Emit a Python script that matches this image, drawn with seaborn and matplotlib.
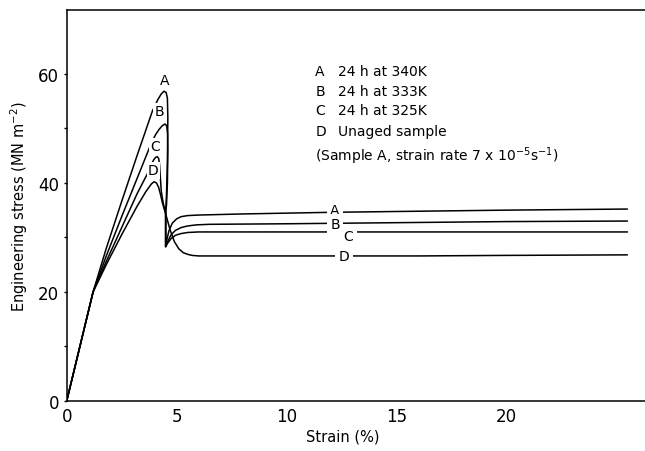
import matplotlib
matplotlib.use("Agg")
import matplotlib.pyplot as plt
import pandas as pd
import seaborn as sns

# Stress-strain curves (strain %, stress MN m^-2)
strain_A = [0, 1.2, 1.8, 2.5, 3.2, 3.9, 4.15, 4.3, 4.42, 4.52, 4.58, 4.6, 4.58, 4.54, 4.5, 4.5,
            4.55, 4.65, 4.8, 5.0, 5.2, 5.5, 6.0, 8, 12, 16, 20, 25.5]
stress_A = [0, 20, 28, 36.6, 45, 53.2, 55.3, 56.3, 56.8, 56.6, 55.5, 52, 44, 38, 34.6, 28.3,
            29.5, 31.2, 32.6, 33.4, 33.8, 34.0, 34.1, 34.3, 34.6, 34.8, 35.0, 35.2]

strain_B = [0, 1.2, 1.8, 2.5, 3.2, 3.85, 4.05, 4.2, 4.35, 4.48, 4.55, 4.59, 4.6, 4.58, 4.54, 4.5, 4.5,
            4.6, 4.75, 4.95, 5.2, 5.5, 5.9, 6.5, 10, 15, 20, 25.5]
stress_B = [0, 20, 26.6, 33.8, 40.8, 47.3, 48.9, 49.8, 50.5, 50.8, 50.4, 49, 46, 40, 36, 34.6, 28.3,
            29.3, 30.5, 31.3, 31.8, 32.1, 32.3, 32.4, 32.5, 32.7, 32.9, 33.0]

strain_C = [0, 1.2, 1.8, 2.5, 3.2, 3.7, 3.95, 4.05, 4.12, 4.18, 4.22, 4.25, 4.3, 4.38, 4.45, 4.5, 4.5,
            4.6, 4.75, 4.95, 5.2, 5.5, 6.0, 10, 15, 20, 25.5]
stress_C = [0, 20, 25.6, 31.8, 38, 41.9, 44.2, 44.7, 44.8, 44.5, 43.5, 41.5, 38.5, 36.5, 35.2, 34.6, 28.3,
            29.0, 29.8, 30.4, 30.7, 30.9, 31.0, 31.0, 31.0, 31.0, 31.0]

strain_D = [0, 1.2, 1.8, 2.5, 3.2, 3.6, 3.85, 3.97, 4.08, 4.18, 4.27, 4.35, 4.45, 4.55, 4.7, 4.9,
            5.1, 5.3, 5.5, 5.7, 6.0, 8, 12, 16, 20, 25.5]
stress_D = [0, 20, 25, 30.5, 35.7, 38.4, 39.8, 40.2, 40.0, 39.2, 37.8, 36.4, 35.0, 33.6, 31.4, 29.2,
            27.9, 27.2, 26.9, 26.7, 26.6, 26.6, 26.6, 26.6, 26.7, 26.8]

curve_names = ["A", "B", "C", "D"]
peak_label_pos = [(4.45, 58.8), (4.21, 53.1), (4.01, 46.7), (3.94, 42.3)]
plateau_label_pos = [(12.2, 35.0), (12.2, 32.4), (12.8, 30.2), (12.6, 26.6)]
legend_letters = ["A", "B", "C", "D"]
legend_texts = ["24 h at 340K", "24 h at 333K", "24 h at 325K", "Unaged sample"]
legend_y = [60.6, 56.9, 53.3, 49.6]
note_text = "(Sample A, strain rate 7 x 10$^{-5}$s$^{-1}$)"

x_ticks = [0, 5, 10, 15, 20]
y_ticks = [0, 20, 40, 60]

sns.set_style("white", {"text.color": "black", "axes.labelcolor": "black",
                        "xtick.color": "black", "ytick.color": "black"})
plt.rcParams["font.family"] = ["DejaVu Sans"]
plt.rcParams["mathtext.default"] = "regular"

fig = plt.figure(figsize=(6.45, 4.52), dpi=100)
ax = fig.add_axes([66.7 / 645, 50 / 452, (645 - 66.7) / 645, 391 / 452])

curves = {"A": (strain_A, stress_A), "B": (strain_B, stress_B),
          "C": (strain_C, stress_C), "D": (strain_D, stress_D)}
for name in curve_names:
    xs, ys = curves[name]
    df = pd.DataFrame({"strain": xs, "stress": ys})
    sns.lineplot(data=df, x="strain", y="stress", sort=False, estimator=None,
                 color="black", linewidth=1.1, ax=ax)

# labels sit on white boxes so they cut a gap into the curves
peak_box = dict(facecolor="white", edgecolor="none", pad=1.0)
plateau_box = dict(facecolor="white", edgecolor="none", pad=2.5)
for name, (px, py) in zip(curve_names, peak_label_pos):
    ax.text(px, py, name, fontsize=10, color="black", ha="center", va="center", bbox=peak_box, zorder=5)
for name, (px, py) in zip(curve_names, plateau_label_pos):
    ax.text(px, py, name, fontsize=10, color="black", ha="center", va="center", bbox=plateau_box, zorder=5)

for letter, txt, ly in zip(legend_letters, legend_texts, legend_y):
    ax.text(11.3, ly, letter, fontsize=10, color="black", ha="left", va="center")
    ax.text(12.35, ly, txt, fontsize=10, color="black", ha="left", va="center")
ax.text(11.3, 45.0, note_text, fontsize=10, color="black", ha="left", va="center")

ax.set_xlim(0, 26.3)
ax.set_ylim(0, 71.7)
ax.set_xticks(x_ticks)
ax.set_yticks(y_ticks)
ax.set_yticks([10, 30, 50], minor=True)
ax.tick_params(axis="x", length=0, pad=4, labelsize=12, colors="black")
ax.tick_params(axis="y", which="major", direction="out", length=2.5, width=1, pad=3,
               labelsize=12, left=True, colors="black")
ax.tick_params(axis="y", which="minor", direction="out", length=2.5, width=1, left=True, colors="black")

for side in ["left", "bottom", "top"]:
    ax.spines[side].set_linewidth(1.1)
    ax.spines[side].set_color("black")
ax.spines["right"].set_visible(False)

ax.set_xlabel("Strain (%)", fontsize=10.5, color="black")
ax.set_ylabel("Engineering stress (MN m$^{-2}$)", fontsize=10.5, color="black")
ax.xaxis.set_label_coords(0.478, -0.07)
ax.yaxis.set_label_coords(-0.064, 0.5)

plt.savefig("out.png", dpi=100)
